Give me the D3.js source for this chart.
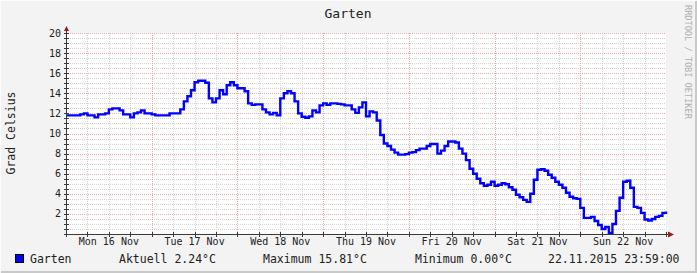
<!DOCTYPE html>
<html>
<head>
<meta charset="utf-8">
<script src="https://cdn.jsdelivr.net/npm/d3@7"></script>
<style>
  body { margin: 0; background: #f3f3f3; }
  svg { display: block; }
  text { font-family: "DejaVu Sans Mono", monospace; }
</style>
</head>
<body>
<svg id="chart" width="697" height="273"></svg>
<script>
// hourly temperatures, Mon 16 Nov 00:00 .. Sun 22 Nov 23:00
var mon = [11.8, 11.8, 11.8, 11.8, 11.9, 12.0, 11.8, 11.8, 11.6, 11.9, 11.9, 12.0,
           12.4, 12.5, 12.5, 12.3, 11.9, 11.9, 11.6, 12.0, 12.1, 12.3, 12.0, 12.0];
var tue = [11.9, 11.8, 11.8, 11.8, 11.8, 12.0, 12.0, 12.0, 12.4, 13.2, 13.7, 14.3,
           15.1, 15.25, 15.25, 15.05, 13.5, 13.1, 13.5, 14.3, 13.9, 14.8, 15.1, 14.8];
var wed = [14.5, 14.5, 14.2, 13.0, 12.85, 12.9, 12.9, 12.4, 12.1, 11.9, 12.05, 11.8,
           13.5, 14.0, 14.2, 14.0, 13.2, 12.0, 11.67, 11.57, 11.7, 12.3, 12.1, 12.8];
var thu = [13.0, 12.85, 13.0, 13.0, 12.95, 12.9, 12.8, 12.8, 12.4, 12.05, 12.6, 13.1,
           11.7, 12.2, 12.1, 11.3, 9.85, 9.0, 8.75, 8.4, 8.1, 7.9, 7.9, 7.95];
var fri = [8.1, 8.15, 8.35, 8.5, 8.5, 8.75, 8.95, 8.95, 8.0, 8.3, 8.75, 9.2,
           9.2, 9.1, 8.5, 8.0, 7.35, 6.5, 6.0, 5.5, 5.05, 4.8, 4.9, 5.2];
var sat = [4.8, 4.9, 5.05, 4.95, 4.65, 4.4, 3.9, 3.65, 3.4, 3.2, 4.0, 5.4,
           6.4, 6.45, 6.3, 5.9, 5.6, 5.2, 4.9, 4.6, 4.1, 3.7, 3.55, 3.5];
var sun = [2.6, 1.6, 1.6, 1.7, 1.3, 0.9, 0.5, 0.7, 0.1, 1.0, 2.3, 3.6,
           5.2, 5.3, 4.6, 2.7, 2.6, 2.1, 1.45, 1.35, 1.5, 1.7, 1.8, 2.1];
var lastValue = 2.24;

var dayLabels = ["Mon 16 Nov", "Tue 17 Nov", "Wed 18 Nov", "Thu 19 Nov", "Fri 20 Nov", "Sat 21 Nov", "Sun 22 Nov"];
var yTicks = [2, 4, 6, 8, 10, 12, 14, 16, 18, 20];
var legendItems = ["Aktuell 2.24°C", "Maximum 15.81°C", "Minimum 0.00°C", "22.11.2015 23:59:00"];

var start = new Date(2015, 10, 16);
var end = new Date(2015, 10, 23);

var values = mon.concat(tue, wed, thu, fri, sat, sun, [lastValue]);
var data = values.map(function (v, i) {
    return { date: d3.timeHour.offset(start, i), value: v };
});

var svg = d3.select("#chart");

var x = d3.scaleTime().domain([start, end]).range([66, 666]);
var y = d3.scaleLinear().domain([0, 20]).range([234, 33]);

// background + shaded frame
svg.append("rect").attr("width", 697).attr("height", 273).attr("fill", "#f3f3f3");
svg.append("path").attr("d", "M0,272 V0 H696").attr("stroke", "#fcfcfc").attr("stroke-width", 2).attr("fill", "none");
svg.append("path").attr("d", "M1,272 H696 V1").attr("stroke", "#c9c9c9").attr("stroke-width", 2).attr("fill", "none");

svg.append("rect")
    .attr("x", x.range()[0]).attr("y", y(20))
    .attr("width", x.range()[1] - x.range()[0]).attr("height", y(0) - y(20))
    .attr("fill", "#ffffff");

// grid
var grid = svg.append("g").attr("shape-rendering", "crispEdges");
var minorY = d3.range(0.5, 20.01, 0.5).filter(function (v) { return v % 2 !== 0; });
grid.selectAll(".hminor").data(minorY).enter().append("line")
    .attr("x1", 66).attr("x2", 666)
    .attr("y1", function (d) { return Math.round(y(d)) + 0.5; })
    .attr("y2", function (d) { return Math.round(y(d)) + 0.5; })
    .attr("stroke", "#d4d4d4").attr("stroke-dasharray", "1,1");

var sixHours = x.ticks(d3.timeHour.every(6)).filter(function (d) { return d.getHours() !== 0; });
grid.selectAll(".vminor").data(sixHours).enter().append("line")
    .attr("x1", function (d) { return Math.round(x(d)) + 0.5; })
    .attr("x2", function (d) { return Math.round(x(d)) + 0.5; })
    .attr("y1", y(20)).attr("y2", y(0))
    .attr("stroke", "#d4d4d4").attr("stroke-dasharray", "1,1");

grid.selectAll(".hmajor").data(yTicks).enter().append("line")
    .attr("x1", 66).attr("x2", 666)
    .attr("y1", function (d) { return Math.round(y(d)) + 0.5; })
    .attr("y2", function (d) { return Math.round(y(d)) + 0.5; })
    .attr("stroke", "#eaacac").attr("stroke-dasharray", "1,1");

var days = x.ticks(d3.timeDay.every(1)).slice(1, 7);
grid.selectAll(".vmajor").data(days).enter().append("line")
    .attr("x1", function (d) { return Math.round(x(d)) + 0.5; })
    .attr("x2", function (d) { return Math.round(x(d)) + 0.5; })
    .attr("y1", y(20)).attr("y2", y(0))
    .attr("stroke", "#eaacac").attr("stroke-dasharray", "1,1");

// data line
var line = d3.line()
    .x(function (d) { return x(d.date); })
    .y(function (d) { return y(d.value); })
    .curve(d3.curveStepAfter);

svg.append("path")
    .datum(data)
    .attr("d", line)
    .attr("fill", "none")
    .attr("stroke", "#0000ff")
    .attr("stroke-width", 2.4);

// axes
var axes = svg.append("g").attr("shape-rendering", "crispEdges").attr("stroke", "#3a3a3a");
axes.append("line").attr("x1", 66.5).attr("x2", 66.5).attr("y1", 29).attr("y2", 236);
axes.append("line").attr("x1", 64).attr("x2", 670).attr("y1", 234.5).attr("y2", 234.5);
axes.selectAll(".ytick").data(d3.range(0, 20.01, 0.5)).enter().append("line")
    .attr("x1", 64).attr("x2", 69)
    .attr("y1", function (d) { return Math.round(y(d)) + 0.5; })
    .attr("y2", function (d) { return Math.round(y(d)) + 0.5; });
axes.selectAll(".xtick").data(x.ticks(d3.timeHour.every(6))).enter().append("line")
    .attr("x1", function (d) { return Math.round(x(d)) + 0.5; })
    .attr("x2", function (d) { return Math.round(x(d)) + 0.5; })
    .attr("y1", 232).attr("y2", 237);

svg.append("path").attr("d", "M64,31 L69,31 L66.5,26 Z").attr("fill", "#a01818");
svg.append("path").attr("d", "M668,231.5 L668,237.5 L674,234.5 Z").attr("fill", "#a01818");

// tick labels
svg.selectAll(".ylab").data(yTicks).enter().append("text")
    .attr("x", 61).attr("y", function (d) { return y(d) + 3.5; })
    .attr("text-anchor", "end").attr("font-size", 10).attr("fill", "#222")
    .text(function (d) { return d; });

svg.selectAll(".xlab").data(dayLabels).enter().append("text")
    .attr("x", function (d, i) { return x(d3.timeHour.offset(d3.timeDay.offset(start, i), 12)); })
    .attr("y", 245)
    .attr("text-anchor", "middle").attr("font-size", 10).attr("fill", "#222")
    .text(function (d) { return d; });

// titles
svg.append("text").attr("x", 348).attr("y", 18).attr("text-anchor", "middle")
    .attr("font-size", 13).attr("fill", "#222").text("Garten");
svg.append("text").attr("transform", "translate(15,133) rotate(-90)").attr("text-anchor", "middle")
    .attr("font-size", 11.5).attr("fill", "#222").text("Grad Celsius");
svg.append("text").attr("transform", "translate(685,5) rotate(90)").attr("text-anchor", "start")
    .attr("font-size", 8.6).attr("fill", "#b0b0b0").text("RRDTOOL / TOBI OETIKER");

// legend
svg.append("rect").attr("x", 15.5).attr("y", 254.5).attr("width", 8).attr("height", 8)
    .attr("fill", "#0000ff").attr("stroke", "#000").attr("stroke-width", 1);
svg.append("text").attr("x", 30).attr("y", 262.5).attr("font-size", 11.5).attr("fill", "#222").text("Garten");
var legendX = [119, 263, 415, 548];
svg.selectAll(".leg").data(legendItems).enter().append("text")
    .attr("x", function (d, i) { return legendX[i]; }).attr("y", 262.5)
    .attr("font-size", 11.5).attr("fill", "#222").attr("xml:space", "preserve")
    .text(function (d) { return d; });
</script>
</body>
</html>
